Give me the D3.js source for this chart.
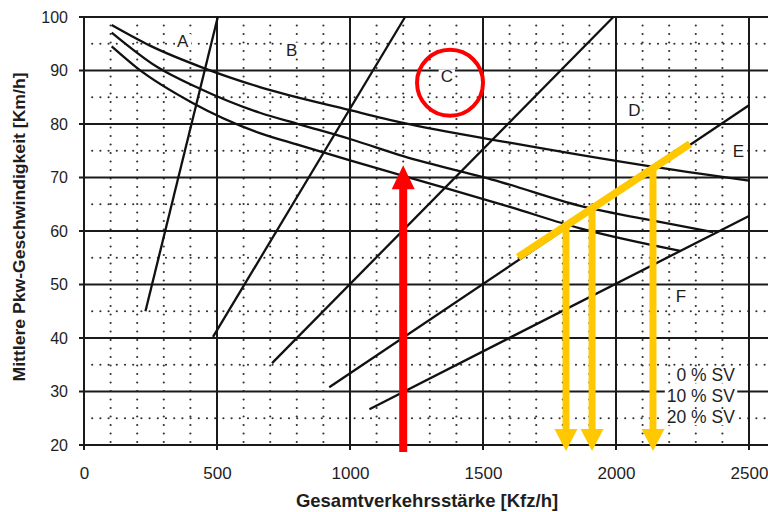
<!DOCTYPE html>
<html><head><meta charset="utf-8">
<script src="https://cdn.jsdelivr.net/npm/d3@7/dist/d3.min.js"></script>
<style>body{margin:0;background:#fff} svg{display:block}</style>
</head><body><svg id="c" width="768" height="512"></svg>
<script>
// ---- data ----
const xTicks = [0, 500, 1000, 1500, 2000, 2500];
const yTicks = [20, 30, 40, 50, 60, 70, 80, 90, 100];
const xMinor = [100,200,300,400,600,700,800,900,1100,1200,1300,1400,1600,1700,1800,1900,2100,2200,2300,2400];
const yMinor = [25, 35, 45, 55, 65, 75, 85, 95];

// speed-flow curves (Kfz/h -> km/h)
const sv0Flow  = [104, 250, 448, 661, 1000, 1200, 1600, 2100, 2500];
const sv0Speed = [98.5, 94.6, 90.5, 86.9, 82.6, 80.2, 76.5, 72.3, 69.4];
const sv10Flow  = [104, 274, 436, 661, 812, 1000, 1200, 1564, 1865, 2100, 2365];
const sv10Speed = [97.1, 90.7, 86.6, 82.1, 79.9, 77.2, 74.0, 69.2, 64.7, 62.3, 59.8];
const sv20Flow  = [104, 199, 410, 661, 812, 1000, 1200, 1601, 1865, 2241];
const sv20Speed = [94.5, 90.5, 83.9, 78.3, 76.0, 73.2, 70.3, 64.5, 60.5, 56.3];

// level-of-service boundary lines
const boundaryStartFlow  = [231, 485, 707, 922, 1073];
const boundaryStartSpeed = [45, 40.2, 35.3, 30.8, 26.7];
const boundaryEndFlow    = [503, 1207, 1990, 2500, 2500];
const boundaryEndSpeed   = [100, 100, 100, 83.5, 62.8];

// region labels
const regionNames = ["A", "B", "C", "D", "E", "F"];
const regionFlow  = [371, 781, 1364, 2069, 2460, 2244];
const regionSpeed = [95.4, 93.8, 88.8, 82.6, 74.8, 47.7];

const svNames = ["0 % SV", "10 % SV", "20 % SV"];
const svFlow  = [2447, 2447, 2447];
const svSpeed = [33.1, 29.2, 25.2];

// annotations
const circleFlow = 1376, circleSpeed = 87.7;
const redArrowFlow = 1200, redArrowFrom = 18.7, redArrowTo = 72.3;
const yellowLineFlow  = [1632, 2278];
const yellowLineSpeed = [55.1, 76.3];
const yellowArrowFlow = [1812, 1910, 2139];
const yellowArrowTo = 18.9;

// ---- drawing ----
const svg = d3.select("#c");
const W = 768;
const x = d3.scaleLinear().domain([0, 2500]).range([84, 749]);
const y = d3.scaleLinear().domain([20, 100]).range([445, 17]);
const ink = "#1a1a1a";

// dotted minor grid
const g = svg.append("g");
g.selectAll(".vm").data(xMinor).join("line")
  .attr("x1", d => x(d)).attr("x2", d => x(d))
  .attr("y1", y(100)).attr("y2", y(20))
  .attr("stroke", "#333").attr("stroke-width", 2.2)
  .attr("stroke-linecap", "round").attr("stroke-dasharray", "0,8.5");
g.selectAll(".hm").data(yMinor).join("line")
  .attr("x1", x(0)).attr("x2", W)
  .attr("y1", d => y(d)).attr("y2", d => y(d))
  .attr("stroke", "#333").attr("stroke-width", 2.2)
  .attr("stroke-linecap", "round").attr("stroke-dasharray", "0,8.2");

// solid major grid
g.selectAll(".vM").data(xTicks).join("line")
  .attr("x1", d => x(d)).attr("x2", d => x(d))
  .attr("y1", y(100)).attr("y2", y(20) + 5)
  .attr("stroke", ink).attr("stroke-width", 2);
g.selectAll(".hM").data(yTicks).join("line")
  .attr("x1", x(0) - 5).attr("x2", W)
  .attr("y1", d => y(d)).attr("y2", d => y(d))
  .attr("stroke", ink).attr("stroke-width", 2);

// axes (labels only; ticks are drawn by grid)
const ax = svg.append("g").attr("transform", `translate(0,${y(20)})`)
  .call(d3.axisBottom(x).tickValues(xTicks).tickSize(5).tickPadding(17).tickFormat(d3.format("d")));
ax.select(".domain").remove();
ax.selectAll("line").remove();
ax.selectAll("text").attr("font-family", "Liberation Sans, Arial, sans-serif")
  .attr("font-size", 17).attr("fill", "#1e1e1e");

const ay = svg.append("g").attr("transform", `translate(${x(0)},0)`)
  .call(d3.axisLeft(y).tickValues(yTicks).tickSize(5).tickPadding(11).tickFormat(d3.format("d")));
ay.select(".domain").remove();
ay.selectAll("line").remove();
ay.selectAll("text").attr("font-family", "Liberation Sans, Arial, sans-serif")
  .attr("font-size", 16).attr("fill", "#1e1e1e");

// boundary lines
svg.append("g").selectAll("line").data(boundaryStartFlow).join("line")
  .attr("x1", (d, i) => x(d)).attr("y1", (d, i) => y(boundaryStartSpeed[i]))
  .attr("x2", (d, i) => x(boundaryEndFlow[i])).attr("y2", (d, i) => y(boundaryEndSpeed[i]))
  .attr("stroke", "#111").attr("stroke-width", 2.3);

// speed-flow curves
const line = d3.line().x(d => x(d[0])).y(d => y(d[1])).curve(d3.curveMonotoneX);
const curves = [
  d3.zip(sv0Flow, sv0Speed),
  d3.zip(sv10Flow, sv10Speed),
  d3.zip(sv20Flow, sv20Speed)
];
svg.append("g").selectAll("path").data(curves).join("path")
  .attr("d", line).attr("fill", "none").attr("stroke", "#111").attr("stroke-width", 2.3);

// text labels with white background
function label(parent, txt, px, py, anchor, size) {
  const t = parent.append("text").attr("x", px).attr("y", py)
    .attr("text-anchor", anchor).attr("dominant-baseline", "central")
    .attr("font-family", "Liberation Sans, Arial, sans-serif")
    .attr("font-size", size).attr("fill", "#1e1e1e").text(txt);
  const b = t.node().getBBox();
  parent.insert("rect", "text").attr("x", b.x - 2).attr("y", b.y + 2)
    .attr("width", b.width + 4).attr("height", b.height - 4).attr("fill", "#fff");
  return t;
}
const lg = svg.append("g");
regionNames.forEach((n, i) => label(lg, n, x(regionFlow[i]), y(regionSpeed[i]), "middle", 17));
svNames.forEach((n, i) => label(lg, n, x(svFlow[i]), y(svSpeed[i]), "end", 17.5));

// axis titles
svg.append("text").attr("x", 427).attr("y", 500)
  .attr("text-anchor", "middle").attr("dominant-baseline", "central")
  .attr("font-family", "Liberation Sans, Arial, sans-serif").attr("font-weight", "bold")
  .attr("font-size", 18.5).attr("fill", "#1e1e1e").text("Gesamtverkehrsstärke [Kfz/h]");
svg.append("text").attr("transform", "translate(19,227) rotate(-90)")
  .attr("text-anchor", "middle").attr("dominant-baseline", "central")
  .attr("font-family", "Liberation Sans, Arial, sans-serif").attr("font-weight", "bold")
  .attr("font-size", 17).attr("textLength", 309).attr("lengthAdjust", "spacingAndGlyphs")
  .attr("fill", "#1e1e1e").text("Mittlere Pkw-Geschwindigkeit [Km/h]");

// annotations
const red = "#ff0000", yellow = "#ffc800";
svg.append("circle").attr("cx", x(circleFlow)).attr("cy", y(circleSpeed)).attr("r", 33)
  .attr("fill", "none").attr("stroke", red).attr("stroke-width", 4);

function arrowUp(px, yFrom, yTip, color, w, hw, hh) {
  svg.append("line").attr("x1", px).attr("x2", px).attr("y1", yFrom).attr("y2", yTip + hh - 1)
    .attr("stroke", color).attr("stroke-width", w);
  svg.append("path").attr("d", `M${px},${yTip} L${px + hw / 2},${yTip + hh} L${px - hw / 2},${yTip + hh} Z`)
    .attr("fill", color);
}
function arrowDown(px, yFrom, yTip, color, w, hw, hh) {
  svg.append("line").attr("x1", px).attr("x2", px).attr("y1", yFrom).attr("y2", yTip - hh + 1)
    .attr("stroke", color).attr("stroke-width", w);
  svg.append("path").attr("d", `M${px},${yTip} L${px + hw / 2},${yTip - hh} L${px - hw / 2},${yTip - hh} Z`)
    .attr("fill", color);
}
arrowUp(x(redArrowFlow), y(redArrowFrom), y(redArrowTo), red, 8, 23, 24);

const yl = d3.scaleLinear().domain(yellowLineFlow).range(yellowLineSpeed);
yellowArrowFlow.forEach(f => arrowDown(x(f), y(yl(f)), y(yellowArrowTo), yellow, 7, 23, 22));
svg.append("line")
  .attr("x1", x(yellowLineFlow[0])).attr("y1", y(yellowLineSpeed[0]))
  .attr("x2", x(yellowLineFlow[1])).attr("y2", y(yellowLineSpeed[1]))
  .attr("stroke", yellow).attr("stroke-width", 7.5);
</script></body></html>
